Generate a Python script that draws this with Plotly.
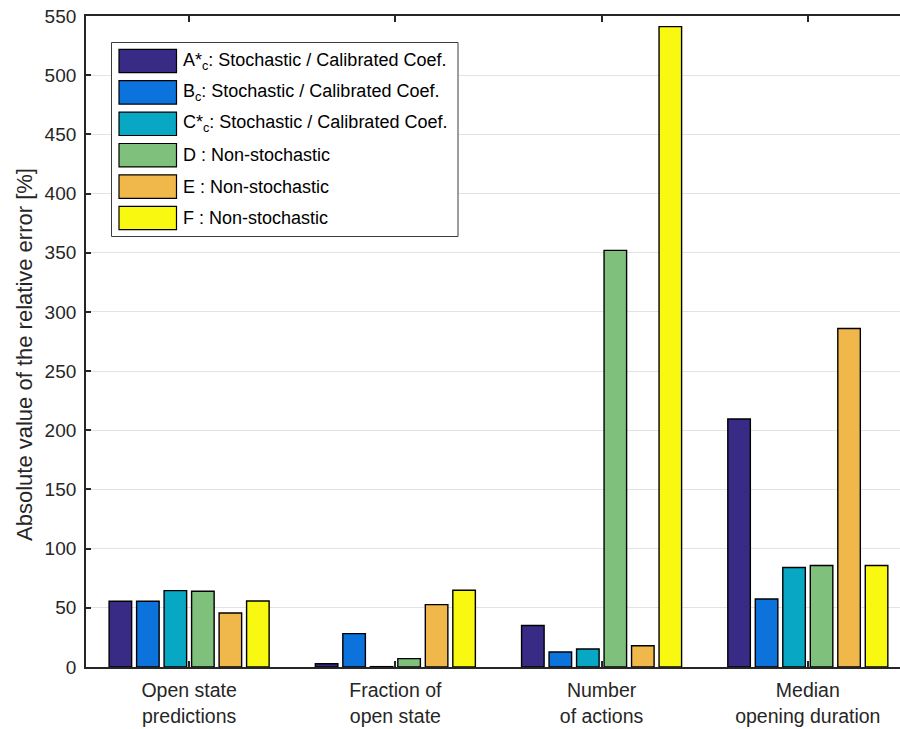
import plotly.graph_objects as go

# Error metrics (x categories)
categories = ["Open state<br>predictions", "Fraction of<br>open state",
              "Number<br>of actions", "Median<br>opening duration"]

# Absolute relative error [%] per model
model_a = [55.5, 2.8, 35.0, 209.5]
model_b = [55.5, 28.2, 12.7, 57.5]
model_c = [64.5, 0.3, 15.2, 84.0]
model_d = [64.0, 7.1, 352.0, 85.7]
model_e = [45.6, 52.7, 18.0, 286.0]
model_f = [55.8, 64.8, 541.0, 85.7]

series_names = ["A*<sub>c</sub>: Stochastic / Calibrated Coef.",
                "B<sub>c</sub>: Stochastic / Calibrated Coef.",
                "C*<sub>c</sub>: Stochastic / Calibrated Coef.",
                "D : Non-stochastic",
                "E : Non-stochastic",
                "F : Non-stochastic"]
series_values = [model_a, model_b, model_c, model_d, model_e, model_f]
series_colors = ["#372b86", "#0c72dc", "#08a8c4", "#7ec07c", "#f0b74b", "#f8f811"]

y_ticks = list(range(0, 551, 50))

FONT = "Liberation Sans, Arial, Helvetica, sans-serif"
INK = "#262626"

fig = go.Figure()
for name, vals, col in zip(series_names, series_values, series_colors):
    fig.add_trace(go.Bar(
        x=list(range(len(categories))), y=vals, name=name,
        marker=dict(color=col, line=dict(color="black", width=1.4)),
        showlegend=False,
    ))

# plot-area geometry in pixels (used for the hand-drawn legend)
W, H = 900, 729
L, R, T, B = 86, 0, 16, 62
pw, ph = W - L - R, H - T - B


def px_x(p):
    return (p - L) / pw


def px_y(p):
    return (H - B - p) / ph


# legend box
fig.add_shape(type="rect", xref="paper", yref="paper",
              x0=px_x(111.5), x1=px_x(458), y0=px_y(42.5), y1=px_y(236.5),
              line=dict(color="#3c3c3c", width=1), fillcolor="white", layer="above")
for i, (name, col) in enumerate(zip(series_names, series_colors)):
    top = 49.3 + i * 31.4
    fig.add_shape(type="rect", xref="paper", yref="paper",
                  x0=px_x(119), x1=px_x(176.5), y0=px_y(top), y1=px_y(top + 23.4),
                  line=dict(color="black", width=1.2), fillcolor=col, layer="above")
    fig.add_annotation(xref="paper", yref="paper", x=px_x(180.5), y=px_y(top + 11.7),
                       text=name, showarrow=False, xanchor="left", yanchor="middle",
                       font=dict(family=FONT, size=18, color="black"))

# y-axis title
fig.add_annotation(xref="paper", yref="paper", x=px_x(24), y=px_y(355),
                   text="Absolute value of the relative error [%]", textangle=-90,
                   showarrow=False, xanchor="center", yanchor="middle",
                   font=dict(family=FONT, size=22, color=INK))

fig.update_layout(
    width=W, height=H,
    margin=dict(l=L, r=R, t=T, b=B, pad=0),
    paper_bgcolor="white", plot_bgcolor="white",
    barmode="group", bargap=0.2, bargroupgap=0.18,
    font=dict(family=FONT, size=19, color=INK),
)
fig.update_xaxes(
    range=[-0.5, 3.447], tickmode="array",
    tickvals=list(range(len(categories))), ticktext=categories,
    ticks="inside", ticklen=6, tickwidth=1.5, tickcolor=INK,
    showline=True, linecolor=INK, linewidth=1.8, mirror="ticks",
    showgrid=False, zeroline=False,
    tickfont=dict(family=FONT, size=19.5, color=INK),
    ticklabelstandoff=5,
)
fig.update_yaxes(
    range=[0, 550], tickmode="array", tickvals=y_ticks,
    ticks="inside", ticklen=5, tickwidth=1.5, tickcolor=INK,
    showline=True, linecolor=INK, linewidth=1.8, mirror=False,
    showgrid=True, gridcolor="#e3e3e3", gridwidth=1, zeroline=False,
    tickfont=dict(family=FONT, size=19, color=INK),
    ticklabelstandoff=4,
)

fig.write_html("out.html")
